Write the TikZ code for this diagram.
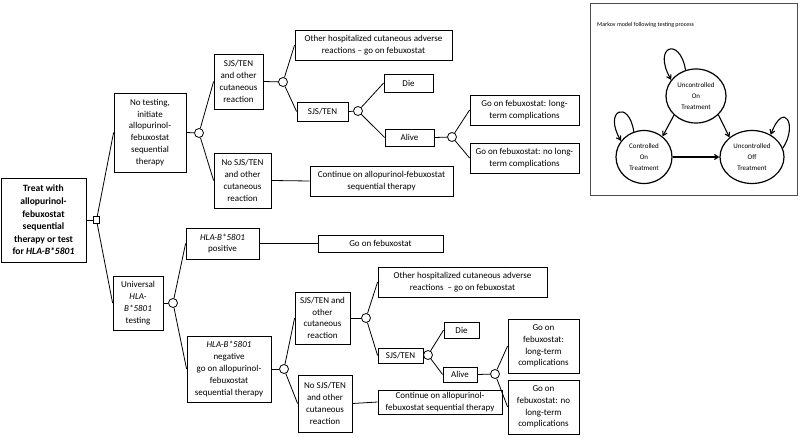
\documentclass[tikz,border=0pt]{standalone}
\usepackage{fontspec}
\setmainfont{Carlito}
\usetikzlibrary{shapes.geometric,arrows.meta}
\begin{document}
\begin{tikzpicture}[x=1pt,y=-1pt,
  box/.style={draw, line width=0.8pt, align=center, inner sep=0pt,
    font=\fontsize{9}{11.8}\selectfont},
  chance/.style={draw, circle, fill=white, line width=0.8pt, minimum size=9pt, inner sep=0pt},
  decis/.style={draw, rectangle, fill=white, line width=0.8pt, minimum size=6.5pt, inner sep=0pt},
  conn/.style={line width=0.8pt},
  state/.style={draw, ellipse, line width=1.2pt, align=center, inner sep=0pt,
    font=\fontsize{7}{10.8}\selectfont},
  marr/.style={line width=1.1pt, -{Straight Barb[length=4pt,width=5pt]}}
]
\useasboundingbox (0,0) rectangle (800,438);
% ---------- upper tree ----------
\node[box, minimum width=85pt, minimum height=84pt, font=\fontsize{9.6}{12.6}\selectfont\bfseries] (root) at (43.5,220)
  {Treat with\\allopurinol-\\febuxostat\\sequential\\therapy or test\\for \textit{HLA-B*5801}};
\node[decis] (sq) at (96.5,220) {};
\node[box, minimum width=72pt, minimum height=79pt] (notest) at (150,132.5)
  {No testing,\\initiate\\allopurinol-\\febuxostat\\sequential\\therapy};
\node[chance] (c1) at (199,133) {};
\node[box, minimum width=49pt, minimum height=55pt] (sjsA) at (238.5,81.5)
  {SJS/TEN\\and other\\cutaneous\\reaction};
\node[box, minimum width=57pt, minimum height=55pt] (nosjsA) at (242.5,180.5)
  {No SJS/TEN\\and other\\cutaneous\\reaction};
\node[chance] (c2) at (283,82) {};
\node[box, minimum width=157pt, minimum height=30pt] (othA) at (373.5,45)
  {Other hospitalized cutaneous adverse\\reactions -- go on febuxostat};
\node[box, minimum width=51pt, minimum height=19pt] (stA) at (322.5,111.5) {SJS/TEN};
\node[chance] (c3) at (358,111) {};
\node[box, minimum width=49pt, minimum height=18pt] (dieA) at (408.5,83) {Die};
\node[box, minimum width=49pt, minimum height=17pt] (aliveA) at (409.5,137.5) {Alive};
\node[chance] (c4) at (452,137) {};
\node[box, minimum width=109pt, minimum height=30pt] (ltA) at (524.5,110)
  {Go on febuxostat: long-\\term complications};
\node[box, minimum width=109pt, minimum height=30pt] (nltA) at (524.5,158)
  {Go on febuxostat: no long-\\term complications};
\node[box, minimum width=143pt, minimum height=30pt] (contA) at (381.5,181)
  {Continue on allopurinol-febuxostat\\sequential therapy};
% ---------- lower tree ----------
\node[box, minimum width=50pt, minimum height=54pt] (univ) at (138,303)
  {Universal\\\textit{HLA-}\\\textit{B*5801}\\testing};
\node[chance] (c5) at (173,303) {};
\node[box, minimum width=73pt, minimum height=31pt] (pos) at (222.5,243.5)
  {\textit{HLA-B*5801}\\positive};
\node[box, minimum width=84pt, minimum height=66pt] (neg) at (229,369)
  {\textit{HLA-B*5801}\\negative\\go on allopurinol-\\febuxostat\\sequential therapy};
\node[box, minimum width=125pt, minimum height=17pt] (gof) at (380.5,243.5) {Go on febuxostat};
\node[chance] (c6) at (284,369) {};
\node[box, minimum width=55pt, minimum height=52pt] (sjsB) at (322.5,318)
  {SJS/TEN and\\other\\cutaneous\\reaction};
\node[box, minimum width=54pt, minimum height=57pt] (nosjsB) at (325,403.5)
  {No SJS/TEN\\and other\\cutaneous\\reaction};
\node[chance] (c7) at (366,318) {};
\node[box, minimum width=169pt, minimum height=30pt] (othB) at (462.5,282)
  {Other hospitalized cutaneous adverse\\reactions\ \ -- go on febuxostat};
\node[box, minimum width=45pt, minimum height=15pt] (stB) at (400.5,355.5) {SJS/TEN};
\node[chance] (c8) at (428,355) {};
\node[box, minimum width=35pt, minimum height=16pt] (dieB) at (461.5,330) {Die};
\node[box, minimum width=34pt, minimum height=15pt] (aliveB) at (460,374.5) {Alive};
\node[chance] (c9) at (495,374) {};
\node[box, minimum width=71pt, minimum height=54pt] (ltB) at (543.5,346)
  {Go on\\febuxostat:\\long-term\\complications};
\node[box, minimum width=71pt, minimum height=54pt] (nltB) at (543.5,407)
  {Go on\\febuxostat: no\\long-term\\complications};
\node[box, minimum width=124pt, minimum height=24pt] (contB) at (440,402)
  {Continue on allopurinol-\\febuxostat sequential therapy};
% ---------- connectors ----------
\draw[conn] (root.east) -- (sq);
\draw[conn] (sq) -- (notest.west);
\draw[conn] (sq) -- (univ.west);
\draw[conn] (notest.east) -- (c1);
\draw[conn] (c1) -- (sjsA.west);
\draw[conn] (c1) -- (nosjsA.west);
\draw[conn] (sjsA.east) -- (c2);
\draw[conn] (c2) -- (othA.west);
\draw[conn] (c2) -- (stA.west);
\draw[conn] (stA.east) -- (c3);
\draw[conn] (c3) -- (dieA.west);
\draw[conn] (c3) -- (aliveA.west);
\draw[conn] (aliveA.east) -- (c4);
\draw[conn] (c4) -- (ltA.west);
\draw[conn] (c4) -- (nltA.west);
\draw[conn] (nosjsA.east) -- (contA.west);
\draw[conn] (univ.east) -- (c5);
\draw[conn] (c5) -- (pos.west);
\draw[conn] (c5) -- (neg.west);
\draw[conn] (pos.east) -- (gof.west);
\draw[conn] (neg.east) -- (c6);
\draw[conn] (c6) -- (sjsB.west);
\draw[conn] (c6) -- (nosjsB.west);
\draw[conn] (sjsB.east) -- (c7);
\draw[conn] (c7) -- (othB.west);
\draw[conn] (c7) -- (stB.west);
\draw[conn] (stB.east) -- (c8);
\draw[conn] (c8) -- (dieB.west);
\draw[conn] (c8) -- (aliveB.west);
\draw[conn] (aliveB.east) -- (c9);
\draw[conn] (c9) -- (ltB.west);
\draw[conn] (c9) -- (nltB.west);
\draw[conn] (nosjsB.east) -- (contB.west);
% ---------- Markov model ----------
\node[draw=black!70, line width=0.9pt, minimum width=207pt, minimum height=192pt, inner sep=0pt] (mbox) at (693.5,99) {};
\node[anchor=west, inner sep=0pt, font=\fontsize{6}{7}\selectfont] (mtitle) at (597,25) {Markov model following testing process};
\node[state, minimum width=60pt, minimum height=54pt] (e1) at (696,96) {Uncontrolled\\On\\Treatment};
\node[state, minimum width=56pt, minimum height=53pt] (e2) at (644,157) {Controlled\\On\\Treatment};
\node[state, minimum width=64pt, minimum height=53pt] (e3) at (752,157) {Uncontrolled\\Off\\Treatment};
\draw[marr] (e1.221) -- (e2.48);
\draw[marr] (e1.320) -- (e3.139);
\draw[marr] (e2.east) -- (e3.west);
\draw[marr] (e1.112) .. controls (680,36) and (652,46) .. (e1.147);
\draw[marr] (e2.112) .. controls (629,99) and (603,110) .. (e2.145);
\draw[marr] (e3.16) .. controls (798,125) and (784,100) .. (e3.50);
\end{tikzpicture}
\end{document}
